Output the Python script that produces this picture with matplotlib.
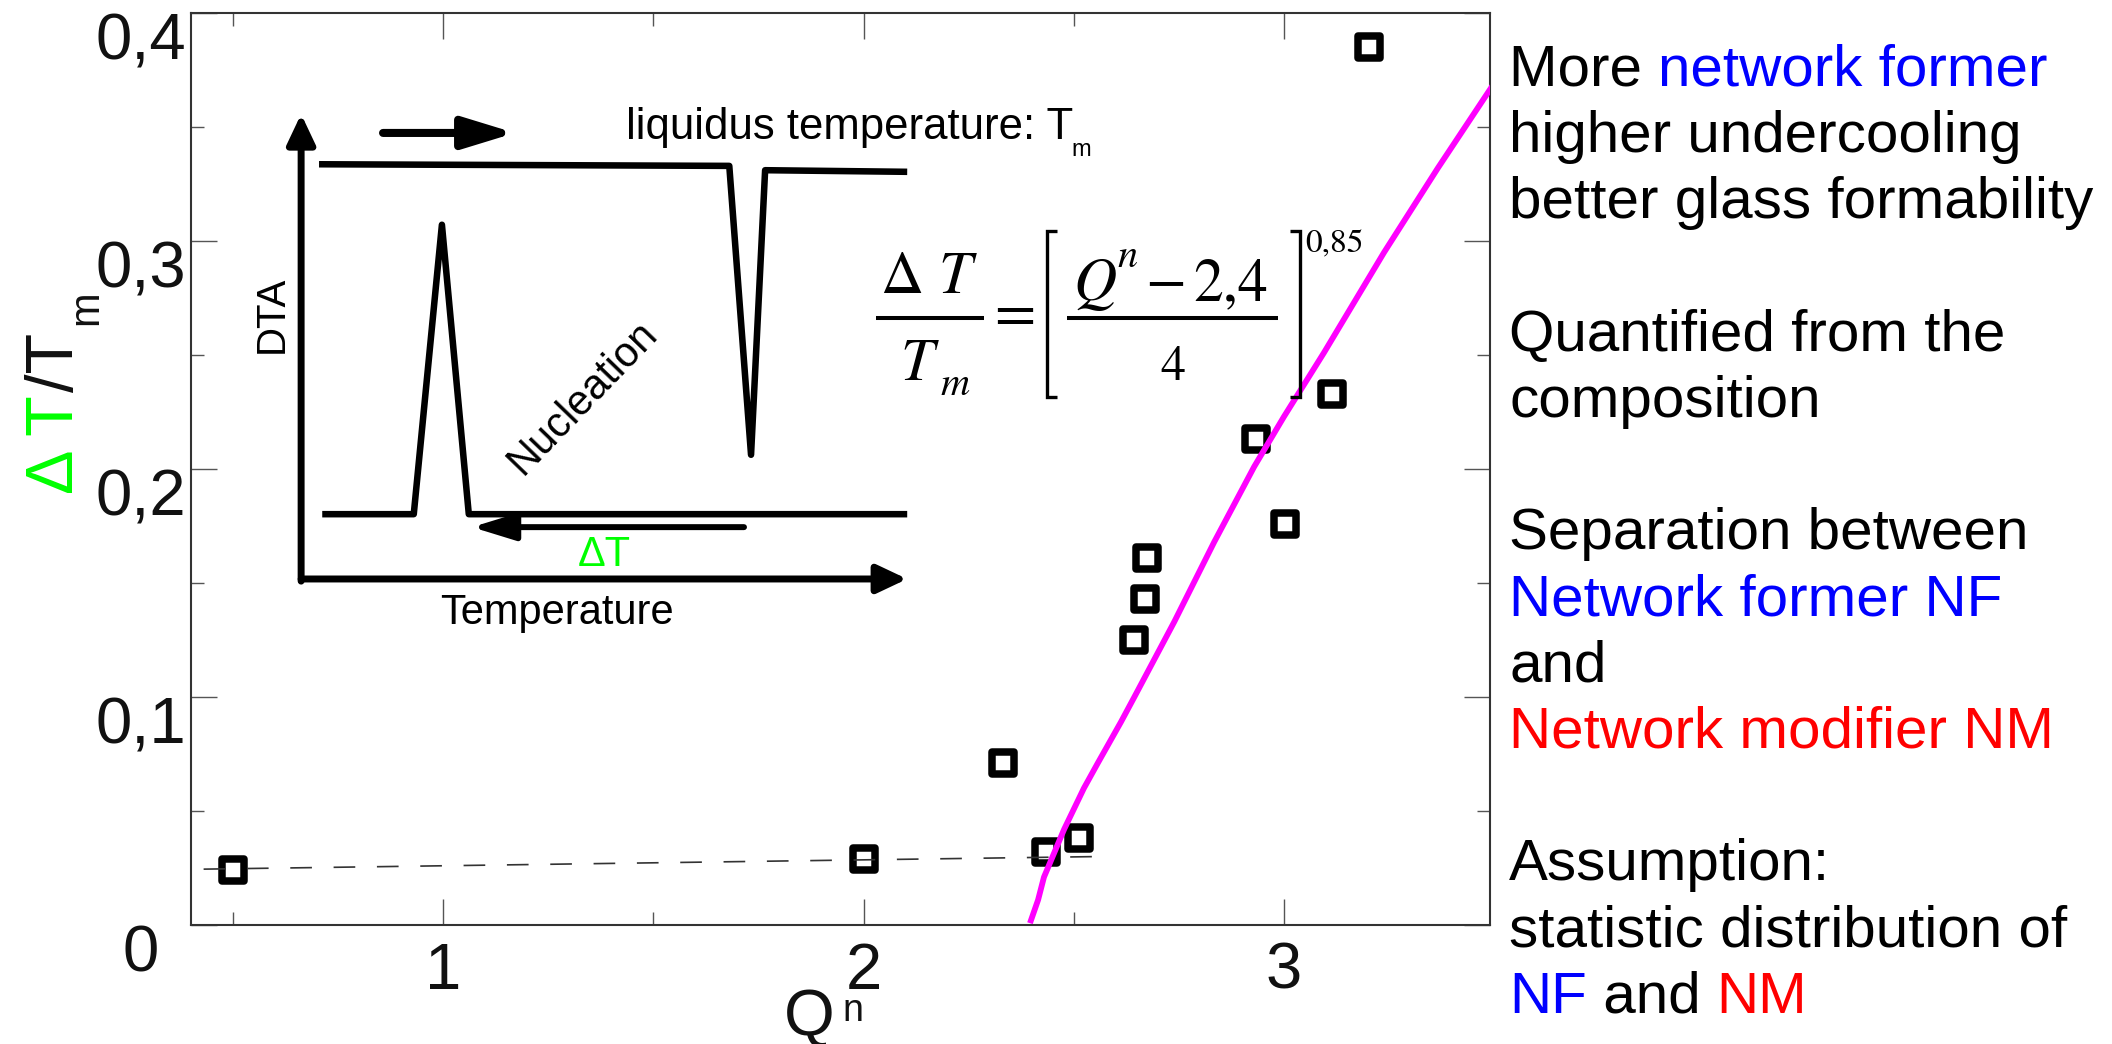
import matplotlib.pyplot as plt
from matplotlib.lines import Line2D
from matplotlib.markers import MarkerStyle
from matplotlib.ticker import MultipleLocator

plt.rcParams['font.family'] = ['Liberation Sans', 'DejaVu Sans']

# measured glasses: Q^n and relative undercooling dT/Tm
q_n = [0.5, 2.0, 2.332, 2.434, 2.513, 2.644, 2.669, 2.674, 2.934, 3.003, 3.114, 3.202]
dt_tm = [0.024, 0.029, 0.071, 0.032, 0.038, 0.125, 0.143, 0.161, 0.213, 0.176, 0.233, 0.385]

# dashed guide through the low Q^n glasses
guide_q = [0.43, 2.55]
guide_dt = [0.0245, 0.030]

# fitted law dT/Tm = ((Q^n - 2,4)/4)^0,85 as traced
fit_q = [2.398, 2.415, 2.429, 2.477, 2.524, 2.557, 2.612, 2.644, 2.739,
         2.834, 2.929, 3.0, 3.095, 3.238, 3.366, 3.492]
fit_dt = [0.002, 0.011, 0.021, 0.042, 0.060, 0.071, 0.089, 0.100, 0.133,
          0.168, 0.201, 0.223, 0.251, 0.295, 0.332, 0.367]

x_ticks = [1, 2, 3]
x_ticklabels = ['1', '2', '3']
y_ticks = [0, 0.1, 0.2, 0.3, 0.4]
y_ticklabels = ['0', '0,1', '0,2', '0,3', '0,4']

# DTA sketch (arbitrary units: temperature 0-100, signal 0-100)
heat_t = [6.1, 70.2, 73.6, 75.8, 98.0]
heat_s = [88.1, 87.8, 34.3, 87.0, 86.7]
cool_t = [6.6, 20.9, 25.3, 29.5, 98.0]
cool_s = [23.3, 23.3, 76.9, 23.3, 23.3]

# right hand notes, one list of (text, colour) per line, None = empty line
notes = [
    [("More ", "black"), ("network former", "#0000ff")],
    [("higher undercooling", "black")],
    [("better glass formability", "black")],
    None,
    [("Quantified from the", "black")],
    [("composition", "black")],
    None,
    [("Separation between", "black")],
    [("Network former NF", "#0000ff")],
    [("and", "black")],
    [("Network modifier NM", "#ff0000")],
    None,
    [("Assumption:", "black")],
    [("statistic distribution of", "black")],
    [("NF", "#0000ff"), (" and ", "black"), ("NM", "#ff0000")],
]

W, H = 2112, 1044
green = "#00ff00"


def fx(px):
    return px / W


def fy(py):
    return 1 - py / H


fig = plt.figure(figsize=(W / 100, H / 100), dpi=100)
ax = fig.add_axes([fx(191), fy(925), fx(1490) - fx(191), fy(13) - fy(925)])

ax.plot(q_n, dt_tm, ls='none', marker=MarkerStyle('s', joinstyle='round'),
        ms=16, mew=5.4, mec='black', mfc='white', zorder=3)
ax.plot(guide_q, guide_dt, color='#333333', lw=1.2, dashes=(13, 13), zorder=4)
ax.plot(fit_q, fit_dt, color='#ff00ff', lw=4.2, zorder=5)

ax.set_xlim(0.4, 3.49)
ax.set_ylim(0, 0.4)
ax.set_xticks(x_ticks, x_ticklabels)
ax.set_yticks(y_ticks, y_ticklabels)
ax.xaxis.set_minor_locator(MultipleLocator(0.5))
ax.yaxis.set_minor_locator(MultipleLocator(0.05))
ax.tick_params(which='both', direction='in', top=True, right=True,
               color='#555555', width=1.0, labelsize=47, labelcolor='#111111')
ax.tick_params(which='major', length=19)
ax.tick_params(which='minor', length=9.5)
ax.tick_params(axis='x', pad=12)
ax.tick_params(axis='y', pad=36)
for lab in ax.get_yticklabels():
    lab.set_horizontalalignment('center')
    lab.set_verticalalignment('top')
for s in ax.spines.values():
    s.set_color('#333333')
    s.set_linewidth(1.5)

# axis titles built from pieces
fig.text(fx(784), fy(1035), "Q", fontsize=47, color='#111111', va='baseline')
fig.text(fx(842), fy(1021), "n", fontsize=27, color='#111111', va='baseline')
fig.text(fx(73), fy(494), "\u0394 T", fontsize=48, color=green, rotation=90,
         rotation_mode='anchor', ha='left', va='baseline')
fig.text(fx(73), fy(392), "/T", fontsize=48, color='#111111', rotation=90,
         rotation_mode='anchor', ha='left', va='baseline')
fig.text(fx(97), fy(325), "m", fontsize=30, color='#111111', rotation=90,
         rotation_mode='anchor', ha='left', va='baseline')

# DTA sketch
ax_in = fig.add_axes([fx(280), fy(640), fx(920) - fx(280), fy(100) - fy(640)])
ax_in.set_xlim(0, 100)
ax_in.set_ylim(0, 100)
ax_in.axis('off')
ax_in.plot(heat_t, heat_s, color='black', lw=4.7, solid_capstyle='butt')
ax_in.plot(cool_t, cool_s, color='black', lw=4.7, solid_capstyle='butt')


def arrow(a, x0, y0, x1, y1, lw, hl, hw):
    a.annotate('', xy=(x1, y1), xytext=(x0, y0),
               arrowprops=dict(arrowstyle=f'-|>,head_length={hl},head_width={hw}',
                               lw=lw, color='black', shrinkA=0, shrinkB=0,
                               mutation_scale=1, joinstyle='round'))


arrow(ax_in, 3.3, 10.9, 3.3, 97.4, 5, 18, 8.5)
arrow(ax_in, 3.3, 11.3, 98.0, 11.3, 5, 18, 8.5)
arrow(ax_in, 16.1, 93.9, 36.7, 93.9, 5.8, 31, 9.5)
arrow(ax_in, 72.5, 20.9, 30.0, 20.9, 4.3, 26, 8)

ax_in.text(54.1, 92.8, "liquidus temperature: T", fontsize=31.5, va='baseline')
ax_in.text(123.6, 89.6, "m", fontsize=17, va='baseline')
ax_in.text(-1.25, 60.4, "DTA", fontsize=29, rotation=90, ha='center', va='center')
ax_in.text(47.3, 44.8, "Nucleation", fontsize=30, rotation=46, ha='center', va='center')
ax_in.text(50.6, 15.7, "\u0394T", fontsize=30, color=green, ha='center', va='center')
ax_in.text(43.3, 5.0, "Temperature", fontsize=30, ha='center', va='center')

# fit law, set piece by piece in a Times-like face
serif = 'STIXGeneral'


def eq(px, py, s, size, ha='left', italic=False):
    fig.text(fx(px), fy(py), s, fontsize=size, family=serif, ha=ha, va='baseline',
             style='italic' if italic else 'normal')


def rule(xs, ys, lw):
    fig.add_artist(Line2D([fx(v) for v in xs], [fy(v) for v in ys], color='black',
                          lw=lw, solid_capstyle='butt', solid_joinstyle='miter',
                          transform=fig.transFigure))


eq(880, 293, "\u0394", 43)
eq(938, 293, "T", 43, italic=True)
rule([876, 984], [318, 318], 2.9)
eq(900, 380, "T", 43, italic=True)
eq(941, 395, "m", 29, italic=True)
eq(1015, 331, "=", 43, ha='center')
rule([1057, 1047, 1047, 1057], [231, 231, 397, 397], 2.4)
eq(1073, 300, "Q", 43, italic=True)
eq(1117, 267, "n", 29, italic=True)
eq(1166, 298, "\u2212", 43, ha='center')
eq(1193, 300, "2,4", 43)
rule([1067, 1278], [318, 318], 2.9)
eq(1173, 380, "4", 36, ha='center')
rule([1290, 1300, 1300, 1290], [231, 231, 397, 397], 2.4)
eq(1305, 252, "0,85", 24)

# notes on the right, coloured pieces chained along each line
x0 = fx(1509)
for k, line in enumerate(notes):
    if line is None:
        continue
    txt, col = line[0]
    prev = fig.text(x0, fy(86 + 66.2 * k), txt, fontsize=42, color=col, va='baseline')
    for txt, col in line[1:]:
        prev = ax.annotate(txt, xy=(1, 0), xycoords=prev, va='bottom', ha='left',
                           fontsize=42, color=col)

fig.savefig("out.png", dpi=100)
